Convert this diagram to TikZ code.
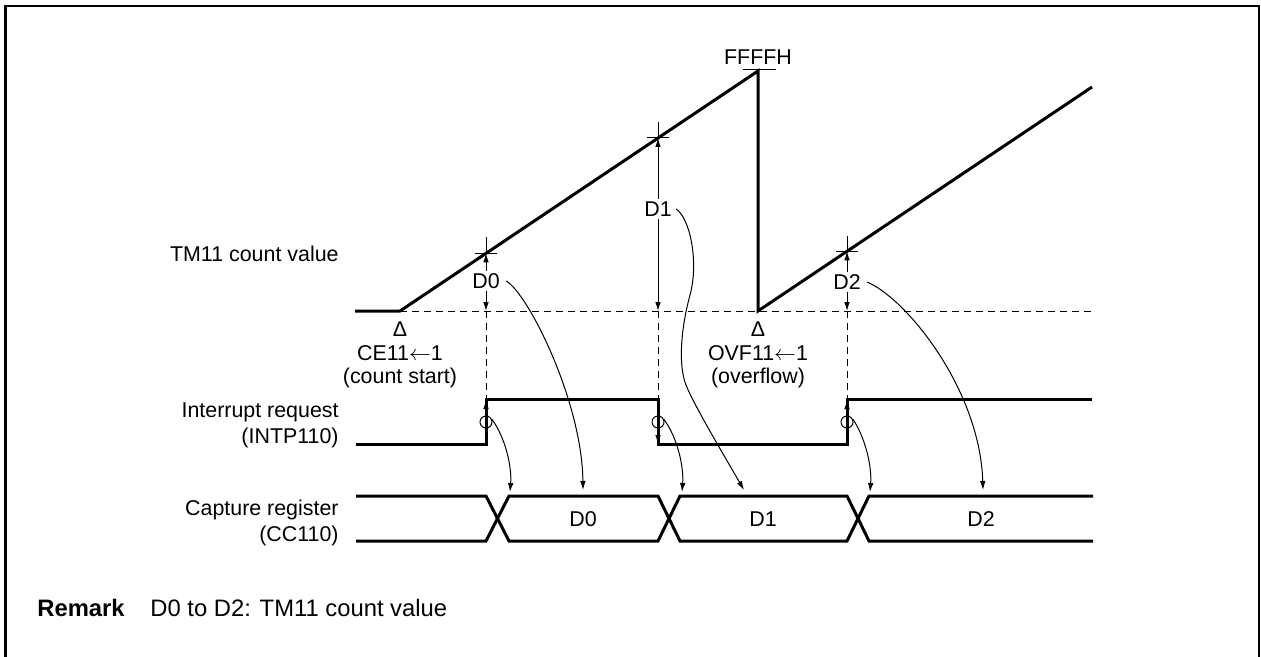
\documentclass[tikz,border=0pt]{standalone}
\usepackage{fontspec}
\setmainfont{Liberation Sans}
\usetikzlibrary{arrows.meta}
\begin{document}
\begin{tikzpicture}[x=0.5pt,y=-0.5pt,
  thickw/.style={line width=1.5pt, line join=miter},
  thinl/.style={line width=0.5pt},
  dashl/.style={line width=0.5pt, dash pattern=on 3.5pt off 2.5pt},
  arr/.style={line width=0.5pt, -{Latex[length=4.5pt,width=2.8pt]}},
  lbl/.style={font=\fontsize{10.7}{13}\selectfont, inner sep=1pt},
  rfont/.style={font=\fontsize{11.9}{14}\selectfont, inner sep=0pt},
  ring/.style={circle, draw, line width=0.5pt, minimum size=6pt, inner sep=0pt}]
\useasboundingbox (0,0) rectangle (1261,657);
% frame (open at bottom)
\draw[line width=1.2pt] (5.5,657) -- (5.5,6) -- (1259,6) -- (1259,657);

% ---- TM11 count value ----
\coordinate (s0) at (355,311);
\coordinate (cs) at (400,311);
\coordinate (pk) at (758,71);
\coordinate (ov) at (758,311);
\coordinate (re) at (1092,87);
\coordinate (be) at (1092,311);
\coordinate (p0) at (486,253.3);
\coordinate (p1) at (658,138);
\coordinate (p2) at (847,251.3);
\coordinate (b0) at (486,311);
\coordinate (b1) at (658,311);
\coordinate (b2) at (847,311);

\draw[dashl] (cs) -- (be);
\draw[thickw] (s0) -- (cs) -- (pk) -- (ov) -- (re);

% ticks
\draw[thinl] (475,253.3) -- (497,253.3);
\draw[thinl] (486,237) -- (p0);
\draw[thinl] (647,138) -- (669,138);
\draw[thinl] (658,122) -- (p1);
\draw[thinl] (836,251.3) -- (858,251.3);
\draw[thinl] (847,236) -- (p2);
\draw[thinl] (743,70) -- (776,70);
\node[lbl] (ff) at (758,57) {FFFFH};

% D labels with arrows
\node[lbl] (lD0) at (486,281) {D0};
\draw[arr] (lD0.north) -- (p0);
\draw[arr] (lD0.south) -- (b0);
\node[lbl] (lD1) at (658,209) {D1};
\draw[arr] (lD1.north) -- (p1);
\draw[arr] (lD1.south) -- (b1);
\node[lbl] (lD2) at (847,282) {D2};
\draw[arr] (lD2.north) -- (p2);
\draw[arr] (lD2.south) -- (b2);

% event labels
\node[lbl] (dl1) at (400,329) {Δ};
\node[lbl] (ce) at (400,353) {CE11$\leftarrow$1};
\node[lbl] (cst) at (400,378) {(count start)};
\node[lbl] (dl2) at (758,329) {Δ};
\node[lbl] (ovf) at (758,353) {OVF11$\leftarrow$1};
\node[lbl] (ovl) at (758,378) {(overflow)};

% ---- Interrupt request ----
\coordinate (r0a) at (486,444);
\coordinate (r0b) at (486,399);
\coordinate (f1a) at (658,399);
\coordinate (f1b) at (658,444);
\coordinate (r2a) at (847,444);
\coordinate (r2b) at (847,399);
\draw[thickw] (356,444) -- (r0a) -- (r0b) -- (f1a) -- (f1b) -- (r2a) -- (r2b) -- (1092,399);
\draw[dashl] (b0) -- (r0b);
\draw[dashl] (b1) -- (f1a);
\draw[dashl] (b2) -- (r2b);
\draw[arr] (486,428) -- (486,400);
\draw[arr] (658,416) -- (658,444);
\draw[arr] (847,428) -- (847,400);
\node[ring] (k0) at (486,422) {};
\node[ring] (k1) at (658,422) {};
\node[ring] (k2) at (847,422) {};

% ---- Capture register ----
\draw[thickw] (356,496) -- (486,496) -- (509,541) -- (658,541) -- (680,496) -- (847,496) -- (869,541) -- (1093,541);
\draw[thickw] (356,541) -- (486,541) -- (509,496) -- (658,496) -- (680,541) -- (847,541) -- (869,496) -- (1093,496);
\node[lbl] (cD0) at (583,519) {D0};
\node[lbl] (cD1) at (763,519) {D1};
\node[lbl] (cD2) at (981,519) {D2};

\coordinate (x0) at (510,492);
\coordinate (x1) at (682,492);
\coordinate (x2) at (870,492);
\coordinate (t0) at (583,490);
\coordinate (t1) at (744,490);
\coordinate (t2) at (983,490);

% circle -> crossing arrows
\draw[arr] (k0.25) .. controls (505,437) and (512,466) .. (x0);
\draw[arr] (k1.25) .. controls (677,437) and (684,466) .. (x1);
\draw[arr] (k2.25) .. controls (865,437) and (872,466) .. (x2);

% count value -> capture arrows
\draw[arr] ([xshift=2pt]lD0.east) .. controls (527,292) and (582,400) .. (t0);
\draw[arr] ([xshift=1pt]lD1.east) .. controls (690,218) and (699,262) .. (690,295)
  .. controls (681,328) and (678,365) .. (686,385)
  .. controls (694,405) and (722,452) .. (t1);
\draw[arr] ([xshift=2pt]lD2.east) .. controls (907,299) and (980,390) .. (t2);

% left labels
\node[lbl, anchor=east] (tml) at (341,254) {TM11 count value};
\node[lbl, anchor=east, align=right] (intl) at (341,425) {Interrupt request\\(INTP110)};
\node[lbl, anchor=east, align=right] (capl) at (341,523) {Capture register\\(CC110)};

% remark
\node[rfont, anchor=base west] (rm) at (37,616.5) {\bfseries Remark};
\node[rfont, anchor=base west] (rt) at (150,616.5) {D0 to D2: TM11 count value};
\end{tikzpicture}
\end{document}
